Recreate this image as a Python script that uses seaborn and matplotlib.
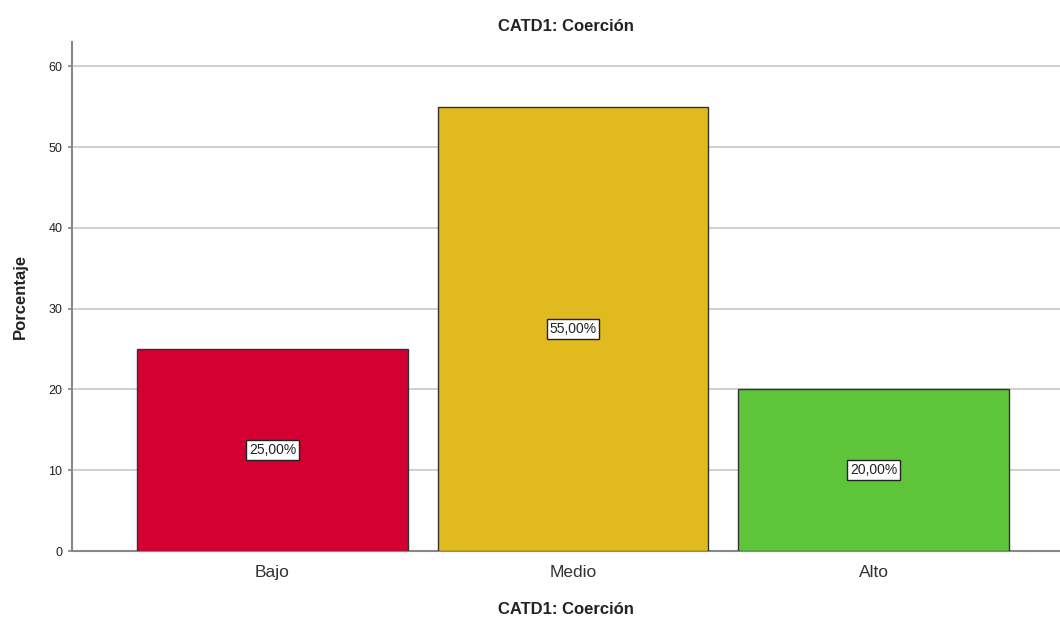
import matplotlib
matplotlib.use("Agg")
import matplotlib.pyplot as plt
import seaborn as sns
import pandas as pd

categories = ["Bajo", "Medio", "Alto"]
percentages = [25.0, 55.0, 20.0]
bar_labels = ["25,00%", "55,00%", "20,00%"]
colors = ["#D50032", "#E1BA1F", "#5EC43A"]
yticks = [0, 10, 20, 30, 40, 50, 60]

sns.set_theme(style="white")
plt.rcParams['font.family'] = ['Liberation Sans', 'DejaVu Sans']

df = pd.DataFrame({"cat": categories, "pct": percentages})

fig = plt.figure(figsize=(10.6, 6.21), dpi=100)
ax = fig.add_axes([72/1060, 70/621, 1 - 72/1060, (551-42)/621])

sns.barplot(data=df, x="cat", y="pct", hue="cat", palette=colors, legend=False,
            saturation=1, width=0.9, edgecolor="#333333", linewidth=1.0, ax=ax, zorder=3)

ax.set_ylim(0, 63)
ax.set_xlim(-0.667, 2.62)
ax.set_yticks(yticks)
ax.set_yticklabels([str(t) for t in yticks], fontsize=9, color="#222222")
ax.tick_params(axis="x", labelsize=12.5, colors="#333333", length=0, pad=10)
ax.tick_params(axis="y", length=3, color="#888888", pad=4, left=True)
ax.yaxis.grid(True, color="#C8C8C8", linewidth=1.2, zorder=0)
ax.set_axisbelow(True)

for s in ["top", "right"]:
    ax.spines[s].set_visible(False)
for s in ["left", "bottom"]:
    ax.spines[s].set_color("#888888")
    ax.spines[s].set_linewidth(1.5)

for i, (v, lab) in enumerate(zip(percentages, bar_labels)):
    ax.text(i, v / 2, lab, ha="center", va="center", fontsize=10, color="#222222", zorder=5,
            bbox=dict(boxstyle="square,pad=0.2", facecolor="white", edgecolor="#222222", linewidth=1))

ax.set_title("CATD1: Coerción", fontsize=12, fontweight="bold", color="#222222", pad=8)
ax.set_xlabel("CATD1: Coerción", fontsize=12, fontweight="bold", color="#222222", labelpad=16)
ax.set_ylabel("Porcentaje", fontsize=12, fontweight="bold", color="#222222", labelpad=15)

fig.savefig("out.png", dpi=100)
